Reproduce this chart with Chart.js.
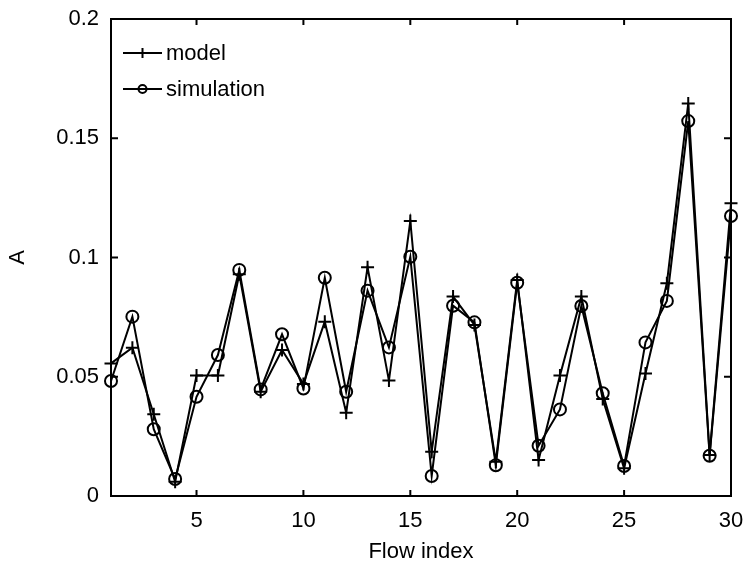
<!DOCTYPE html>
<html>
<head>
<meta charset="utf-8">
<script src="https://cdn.jsdelivr.net/npm/chart.js@4/dist/chart.umd.min.js"></script>
<style>
  body { margin: 0; background: #fff; }
  canvas { display: block; }
</style>
</head>
<body>
<canvas id="chart" width="743" height="564"></canvas>
<script>
// data
const flowIndex = [1,2,3,4,5,6,7,8,9,10,11,12,13,14,15,16,17,18,19,20,21,22,23,24,25,26,27,28,29,30];
const model = [0.0556, 0.0622, 0.0343, 0.0060, 0.0505, 0.0505, 0.0930, 0.0437, 0.0612, 0.0470,
               0.0731, 0.0349, 0.0959, 0.0484, 0.1153, 0.0186, 0.0836, 0.0717, 0.0144, 0.0906,
               0.0151, 0.0505, 0.0836, 0.0407, 0.0116, 0.0514, 0.0892, 0.1646, 0.0172, 0.1227];
const simulation = [0.0482, 0.0752, 0.0280, 0.0071, 0.0416, 0.0591, 0.0948, 0.0447, 0.0678, 0.0451,
                    0.0915, 0.0437, 0.0861, 0.0623, 0.1003, 0.0084, 0.0798, 0.0728, 0.0129, 0.0894,
                    0.0211, 0.0363, 0.0797, 0.0431, 0.0126, 0.0644, 0.0818, 0.1572, 0.0169, 0.1174];
const xTicks = [5, 10, 15, 20, 25, 30];
const yTicks = [0, 0.05, 0.1, 0.15, 0.2];
const yTickLabels = ['0', '0.05', '0.1', '0.15', '0.2'];

const FONT = { family: 'Liberation Sans, Arial, sans-serif', size: 22 };

// MATLAB-like box with inward ticks
const boxPlugin = {
  id: 'box',
  afterDraw(chart) {
    const ctx = chart.ctx, a = chart.chartArea;
    const xs = chart.scales.x, ys = chart.scales.y;
    ctx.save();
    ctx.strokeStyle = '#000';
    ctx.lineWidth = 2;
    ctx.strokeRect(a.left, a.top, a.right - a.left, a.bottom - a.top);
    ctx.beginPath();
    xTicks.forEach(v => {
      const px = xs.getPixelForValue(v);
      ctx.moveTo(px, a.bottom); ctx.lineTo(px, a.bottom - 6);
      ctx.moveTo(px, a.top); ctx.lineTo(px, a.top + 6);
    });
    yTicks.forEach(v => {
      const py = ys.getPixelForValue(v);
      ctx.moveTo(a.left, py); ctx.lineTo(a.left + 7, py);
      ctx.moveTo(a.right, py); ctx.lineTo(a.right - 7, py);
    });
    ctx.stroke();
    ctx.restore();
  }
};

// legend: line with marker, no frame
const legendPlugin = {
  id: 'lineLegend',
  afterDatasetsDraw(chart) {
    const ctx = chart.ctx, a = chart.chartArea;
    const items = [['model', 'cross', 34], ['simulation', 'circle', 70]];
    ctx.save();
    ctx.strokeStyle = '#000';
    ctx.fillStyle = '#000';
    ctx.lineWidth = 2;
    ctx.font = FONT.size + 'px ' + FONT.family;
    ctx.textBaseline = 'middle';
    items.forEach(([label, style, dy]) => {
      const y = a.top + dy, x0 = a.left + 12, x1 = a.left + 51, xm = (x0 + x1) / 2;
      ctx.beginPath();
      ctx.moveTo(x0, y); ctx.lineTo(x1, y);
      if (style === 'cross') {
        ctx.moveTo(xm, y - 5); ctx.lineTo(xm, y + 5);
      }
      ctx.stroke();
      if (style === 'circle') {
        ctx.beginPath();
        ctx.arc(xm, y, 4, 0, Math.PI * 2);
        ctx.stroke();
      }
      ctx.fillText(label, a.left + 55, y + 1);
    });
    ctx.restore();
  }
};

new Chart(document.getElementById('chart'), {
  type: 'line',
  data: {
    datasets: [
      {
        label: 'model',
        data: flowIndex.map((x, i) => ({ x: x, y: model[i] })),
        borderColor: '#000',
        borderWidth: 2,
        pointStyle: 'cross',
        pointRadius: 6.5,
        pointBorderWidth: 2,
        pointBorderColor: '#000',
        backgroundColor: 'transparent',
        tension: 0,
        clip: false
      },
      {
        label: 'simulation',
        data: flowIndex.map((x, i) => ({ x: x, y: simulation[i] })),
        borderColor: '#000',
        borderWidth: 2,
        pointStyle: 'circle',
        pointRadius: 6,
        pointBorderWidth: 2,
        pointBorderColor: '#000',
        pointBackgroundColor: 'transparent',
        backgroundColor: 'transparent',
        tension: 0,
        clip: false
      }
    ]
  },
  options: {
    responsive: false,
    animation: false,
    layout: { padding: { left: 0, top: 19, right: 12, bottom: 0 } },
    plugins: { legend: { display: false }, tooltip: { enabled: false } },
    scales: {
      x: {
        type: 'linear',
        min: 1,
        max: 30,
        afterBuildTicks: s => { s.ticks = xTicks.map(v => ({ value: v })); },
        afterFit: s => { s.height = 68; s.paddingLeft = 0; s.paddingRight = 0; },
        grid: { display: false, drawTicks: false },
        border: { display: false },
        ticks: { color: '#000', font: FONT, padding: 12, maxRotation: 0 },
        title: { display: true, text: 'Flow index', color: '#000', font: Object.assign({ lineHeight: 1.1 }, FONT), padding: { top: 0, bottom: 0 } }
      },
      y: {
        min: 0,
        max: 0.2,
        afterBuildTicks: s => { s.ticks = yTicks.map(v => ({ value: v })); },
        afterFit: s => { s.width = 111; s.paddingTop = 0; s.paddingBottom = 0; },
        grid: { display: false, drawTicks: false },
        border: { display: false },
        ticks: {
          color: '#000', font: FONT, padding: 12,
          callback: (v) => yTickLabels[yTicks.indexOf(v)]
        },
        title: { display: true, text: 'A', color: '#000', font: Object.assign({ lineHeight: 1.1 }, FONT), padding: { top: 6, bottom: 0 } }
      }
    }
  },
  plugins: [boxPlugin, legendPlugin]
});
</script>
</body>
</html>
